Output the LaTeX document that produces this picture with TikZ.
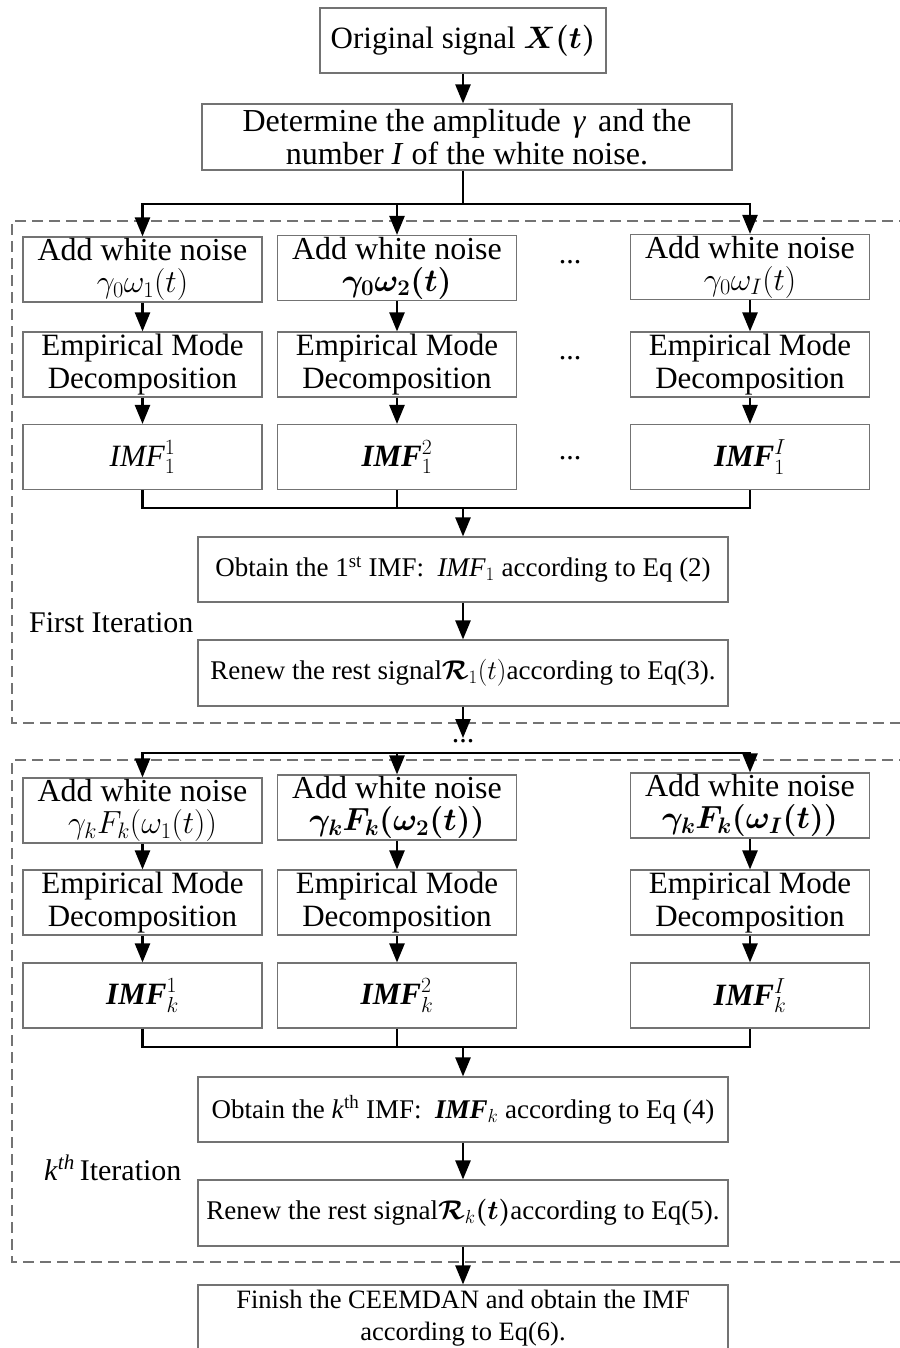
\RequirePackage{fix-cm}
\documentclass[tikz,border=0pt]{standalone}
\usepackage{amsmath}
\usepackage{bm}
\usepackage{fontspec}
\setmainfont{Liberation Serif}
\usetikzlibrary{arrows.meta}

\newcommand{\fs}[2]{\fontsize{#1}{#2}\selectfont}

\begin{document}
\begin{tikzpicture}[x=1pt,y=-1pt,
  box/.style={draw=black!55, line width=1.1pt, fill=white, inner sep=0pt,
    align=center, minimum width=239pt, minimum height=65pt},
  widebox/.style={box, minimum width=530pt, minimum height=65pt},
  big/.style={font=\fs{31}{33}},
  noise/.style={font=\fs{32}{32}},
  mid/.style={font=\fs{27}{32}},
  dotsnode/.style={inner sep=0pt, font=\fs{30}{30}},
  wire/.style={line width=2.4pt, line join=miter},
  conn/.style={wire, -{Triangle[length=19pt,width=15pt]}},
  frame/.style={draw=black!55, line width=1.2pt, dash pattern=on 11pt off 6pt},
  tag/.style={inner sep=0pt, anchor=west, font=\fs{30}{30}}]

\useasboundingbox (0,0) rectangle (899,1348);

% ---------- header ----------
\node[box, big, minimum width=286pt] (orig) at (463,40.5) {Original signal $\bm{X(t)}$};
\node[widebox, font=\fs{32}{33}, minimum height=66pt] (det) at (467,137)
  {Determine the amplitude\hspace{12pt}\textit{γ}\hspace{12pt}and the\\number \textit{I} of the white noise.};

% ---------- first iteration ----------
\draw[frame] (910,221) -- (12,221) -- (12,723) -- (910,723);

\node[box, noise] (a1) at (142.5,269.5) {Add white noise\\$\gamma_0\omega_1(t)$};
\node[box, noise] (b1) at (397,268) {Add white noise\\$\bm{\gamma_0\omega_2(t)}$};
\node[box, noise] (c1) at (750,267) {Add white noise\\$\gamma_0\omega_I(t)$};
\node[dotsnode] (d1) at (570,262) {...};

\node[box, big] (a2) at (142.5,364.5) {Empirical Mode\\Decomposition};
\node[box, big] (b2) at (397,364.5) {Empirical Mode\\Decomposition};
\node[box, big] (c2) at (750,364.5) {Empirical Mode\\Decomposition};
\node[dotsnode] (d2) at (570,358) {...};

\node[box, big] (a3) at (142.5,457) {$\mathit{IMF}_1^1$};
\node[box, big] (b3) at (397,457) {$\bm{\mathit{IMF}}_1^2$};
\node[box, big] (c3) at (750,457) {$\bm{\mathit{IMF}}_1^I$};
\node[dotsnode] (d3) at (570,458) {...};

\node[widebox, mid] (ob1) at (463,569.5)
  {Obtain the 1\textsuperscript{st} IMF: \ $\mathit{IMF}_1$ according to Eq (2)};
\node[widebox, mid, minimum height=66pt] (re1) at (463,673)
  {Renew the rest signal$\bm{\mathcal{R}}_1(t)$according to Eq(3).};
\node[tag] (it1) at (29,623) {First Iteration};

% ---------- k-th iteration ----------
\draw[frame] (910,760) -- (12,760) -- (12,1262) -- (910,1262);

\node[box, noise] (ak1) at (142.5,810.5) {Add white noise\\$\gamma_kF_k(\omega_1(t))$};
\node[box, noise] (bk1) at (397,807.5) {Add white noise\\$\bm{\gamma_kF_k(\omega_2(t))}$};
\node[box, noise] (ck1) at (750,805.5) {Add white noise\\$\bm{\gamma_kF_k(\omega_I(t))}$};

\node[box, big] (ak2) at (142.5,902.5) {Empirical Mode\\Decomposition};
\node[box, big] (bk2) at (397,902.5) {Empirical Mode\\Decomposition};
\node[box, big] (ck2) at (750,902.5) {Empirical Mode\\Decomposition};

\node[box, big] (ak3) at (142.5,995.5) {$\bm{\mathit{IMF}}_k^1$};
\node[box, big] (bk3) at (397,995.5) {$\bm{\mathit{IMF}}_k^2$};
\node[box, big] (ck3) at (750,995.5) {$\bm{\mathit{IMF}}_k^I$};

\node[widebox, mid] (obk) at (463,1109.5)
  {Obtain the \textit{k}\textsuperscript{th} IMF: \ $\bm{\mathit{IMF}}_k$ according to Eq (4)};
\node[widebox, mid, minimum height=66pt] (rek) at (463,1213)
  {Renew the rest signal$\bm{\mathcal{R}}_k\bm{(t)}$according to Eq(5).};
\node[tag] (itk) at (44,1168) {\textit{k}\textsuperscript{\textit{th}}\,Iteration};

\node[widebox, font=\fs{26.5}{32}, minimum height=66pt] (fin) at (463,1318)
  {Finish the CEEMDAN and obtain the IMF\\according to Eq(6).};

% ---------- connectors ----------
\coordinate (s1) at (463,204);
\coordinate (j1) at (463,508);
\coordinate (tip) at (463,738);
\coordinate (s2) at (463,753);
\coordinate (jk) at (463,1047);
\node[dotsnode] (dm) at (463,741) {...};

\draw[conn] (orig.south -| s1) -- (s1 |- det.north);
\draw[wire] (s1 |- det.south) -- (s1);
\draw[conn] (s1) -| (a1.north);
\draw[conn] (s1) -| (c1.north);
\draw[conn] (s1 -| b1.north) -- (b1.north);
\foreach \c in {a,b,c}{
  \draw[conn] (\c1.south) -- (\c2.north);
  \draw[conn] (\c2.south) -- (\c3.north);
  \draw[conn] (\c k1.south) -- (\c k2.north);
  \draw[conn] (\c k2.south) -- (\c k3.north);
}
\draw[wire] (a3.south) |- (j1) -| (c3.south);
\draw[wire] (b3.south) -- (b3.south |- j1);
\draw[conn] (j1) -- (ob1.north);
\draw[conn] (ob1.south) -- (re1.north);
\draw[conn] (re1.south) -- (tip);

\draw[conn] (s2) -| (ak1.north);
\draw[conn] (s2) -| (ck1.north);
\draw[conn] (s2 -| bk1.north) -- (bk1.north);
\draw[wire] (ak3.south) |- (jk) -| (ck3.south);
\draw[wire] (bk3.south) -- (bk3.south |- jk);
\draw[conn] (jk) -- (obk.north);
\draw[conn] (obk.south) -- (rek.north);
\draw[conn] (rek.south) -- (fin.north);
\end{tikzpicture}
\end{document}
